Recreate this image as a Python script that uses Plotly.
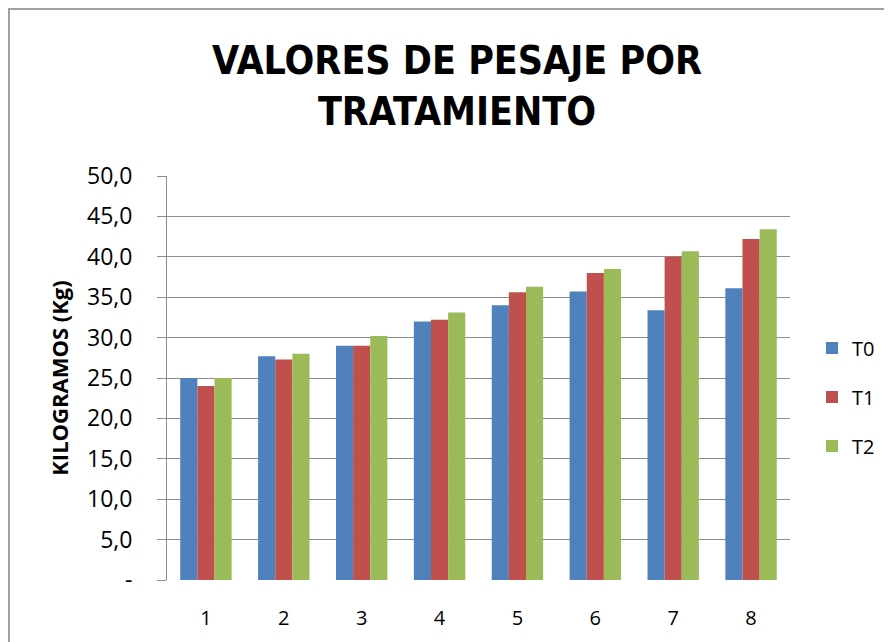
import plotly.graph_objects as go

# data
categories = ['1', '2', '3', '4', '5', '6', '7', '8']
t0 = [25.0, 27.7, 29.0, 32.0, 34.0, 35.7, 33.4, 36.1]
t1 = [24.0, 27.3, 29.0, 32.2, 35.6, 38.0, 40.0, 42.2]
t2 = [25.0, 28.0, 30.2, 33.1, 36.3, 38.5, 40.7, 43.4]
series_names = ['T0', 'T1', 'T2']
series_colors = ['#4F81BD', '#C0504D', '#9BBB59']
y_ticks = [0, 5, 10, 15, 20, 25, 30, 35, 40, 45, 50]
y_tick_labels = ['-', '5,0', '10,0', '15,0', '20,0', '25,0', '30,0', '35,0', '40,0', '45,0', '50,0']

# the page body adds an 8px margin, so the figure is laid out 8px smaller
W, H = 884, 634
L, R, T, B = 159, 102, 168, 62
pw, ph = W - L - R, H - T - B


def px_x(p):
    return (p - L) / pw


def px_y(p):
    return (H - B - p) / ph


fig = go.Figure()
for name, vals, col in zip(series_names, [t0, t1, t2], series_colors):
    fig.add_trace(go.Bar(x=categories, y=vals, name=name, legendgroup=name,
                         marker=dict(color=col, line=dict(width=0))))

title_font = 'DejaVu Sans Condensed, Liberation Sans, Arial, sans-serif'
body_font = 'Open Sans, sans-serif'

fig.update_layout(
    width=W, height=H,
    margin=dict(l=L, r=R, t=T, b=B, autoexpand=False),
    paper_bgcolor='white', plot_bgcolor='white',
    barmode='group', bargap=0.34, bargroupgap=0,
    title=dict(text='VALORES DE PESAJE POR<br>TRATAMIENTO',
               font=dict(family=title_font, size=39, color='black', weight='bold'),
               x=px_x(449), xanchor='center', xref='paper',
               y=1 - 66 / H, yanchor='middle'),
    font=dict(family=body_font, size=20, color='black'),
    legend=dict(x=px_x(804), xanchor='left', y=px_y(389), yanchor='middle',
                font=dict(size=20, family=body_font), itemwidth=30,
                tracegroupgap=20, bgcolor='rgba(0,0,0,0)'),
    xaxis=dict(showgrid=False, showline=False, ticks='', ticklabelstandoff=24,
               tickfont=dict(size=20), automargin=False),
    yaxis=dict(range=[0, 50], tickvals=y_ticks, ticktext=y_tick_labels,
               showgrid=True, gridcolor='#8C8C8C', gridwidth=1,
               showline=True, linecolor='#8C8C8C', linewidth=1,
               ticks='outside', ticklen=9, tickcolor='#8C8C8C',
               ticklabelstandoff=20,
               zeroline=False, tickfont=dict(size=23), automargin=False,
               title=dict(text='KILOGRAMOS (Kg)', standoff=12,
                          font=dict(size=22, weight='bold'))),
)

# outer chart frame (left and top edges visible in reference)
fig.add_shape(type='line', xref='paper', yref='paper',
              x0=px_x(1), x1=px_x(1), y0=px_y(H), y1=px_y(0),
              line=dict(color='#A0A0A0', width=2))
fig.add_shape(type='line', xref='paper', yref='paper',
              x0=px_x(0), x1=px_x(W), y0=px_y(1), y1=px_y(1),
              line=dict(color='#A0A0A0', width=2))

fig.write_html('out.html')
